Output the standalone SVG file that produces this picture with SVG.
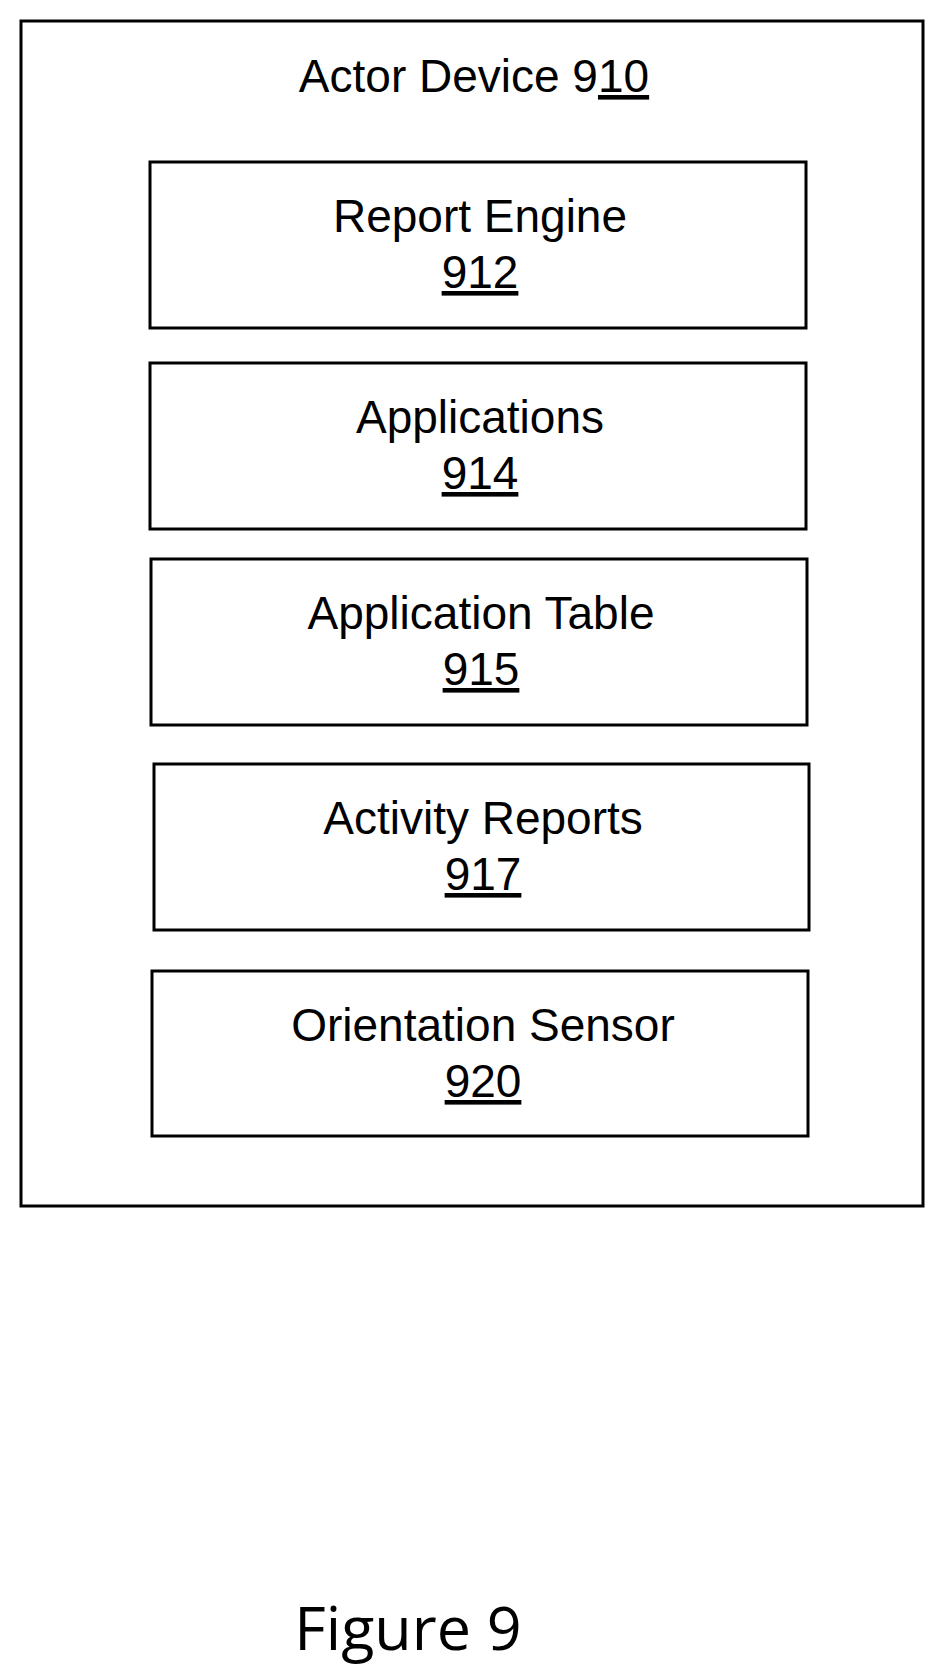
<svg xmlns="http://www.w3.org/2000/svg" width="945" height="1677" viewBox="0 0 945 1677">
<style>
rect{fill:none;stroke:#000;stroke-width:3}
text{font-family:"Liberation Sans",Arial,sans-serif;font-size:46px;text-anchor:middle;fill:#000}
.u{text-decoration:underline}
</style>
<rect width="945" height="1677" fill="#fff" style="stroke:none;fill:#fff"/>
<g id="actor-device">
<rect x="21" y="21" width="902" height="1185"/>
<text x="474" y="92">Actor Device 9<tspan class="u">10</tspan></text>
</g>
<g id="report-engine"><rect x="150" y="162" width="656" height="166"/><text x="480" y="232">Report Engine</text><text class="u" x="480" y="288">912</text></g>
<g id="applications"><rect x="150" y="363" width="656" height="166"/><text x="480" y="433">Applications</text><text class="u" x="480" y="489">914</text></g>
<g id="application-table"><rect x="151" y="559" width="656" height="166"/><text x="481" y="629">Application Table</text><text class="u" x="481" y="685">915</text></g>
<g id="activity-reports"><rect x="154" y="764" width="655" height="166"/><text x="483" y="834">Activity Reports</text><text class="u" x="483" y="890">917</text></g>
<g id="orientation-sensor"><rect x="152" y="971" width="656" height="165"/><text x="483" y="1041">Orientation Sensor</text><text class="u" x="483" y="1097">920</text></g>
<g id="connectors"/>
<text x="408" y="1650" style="font-family:'Open Sans','Liberation Sans',sans-serif;font-size:61px">Figure 9</text>
</svg>
